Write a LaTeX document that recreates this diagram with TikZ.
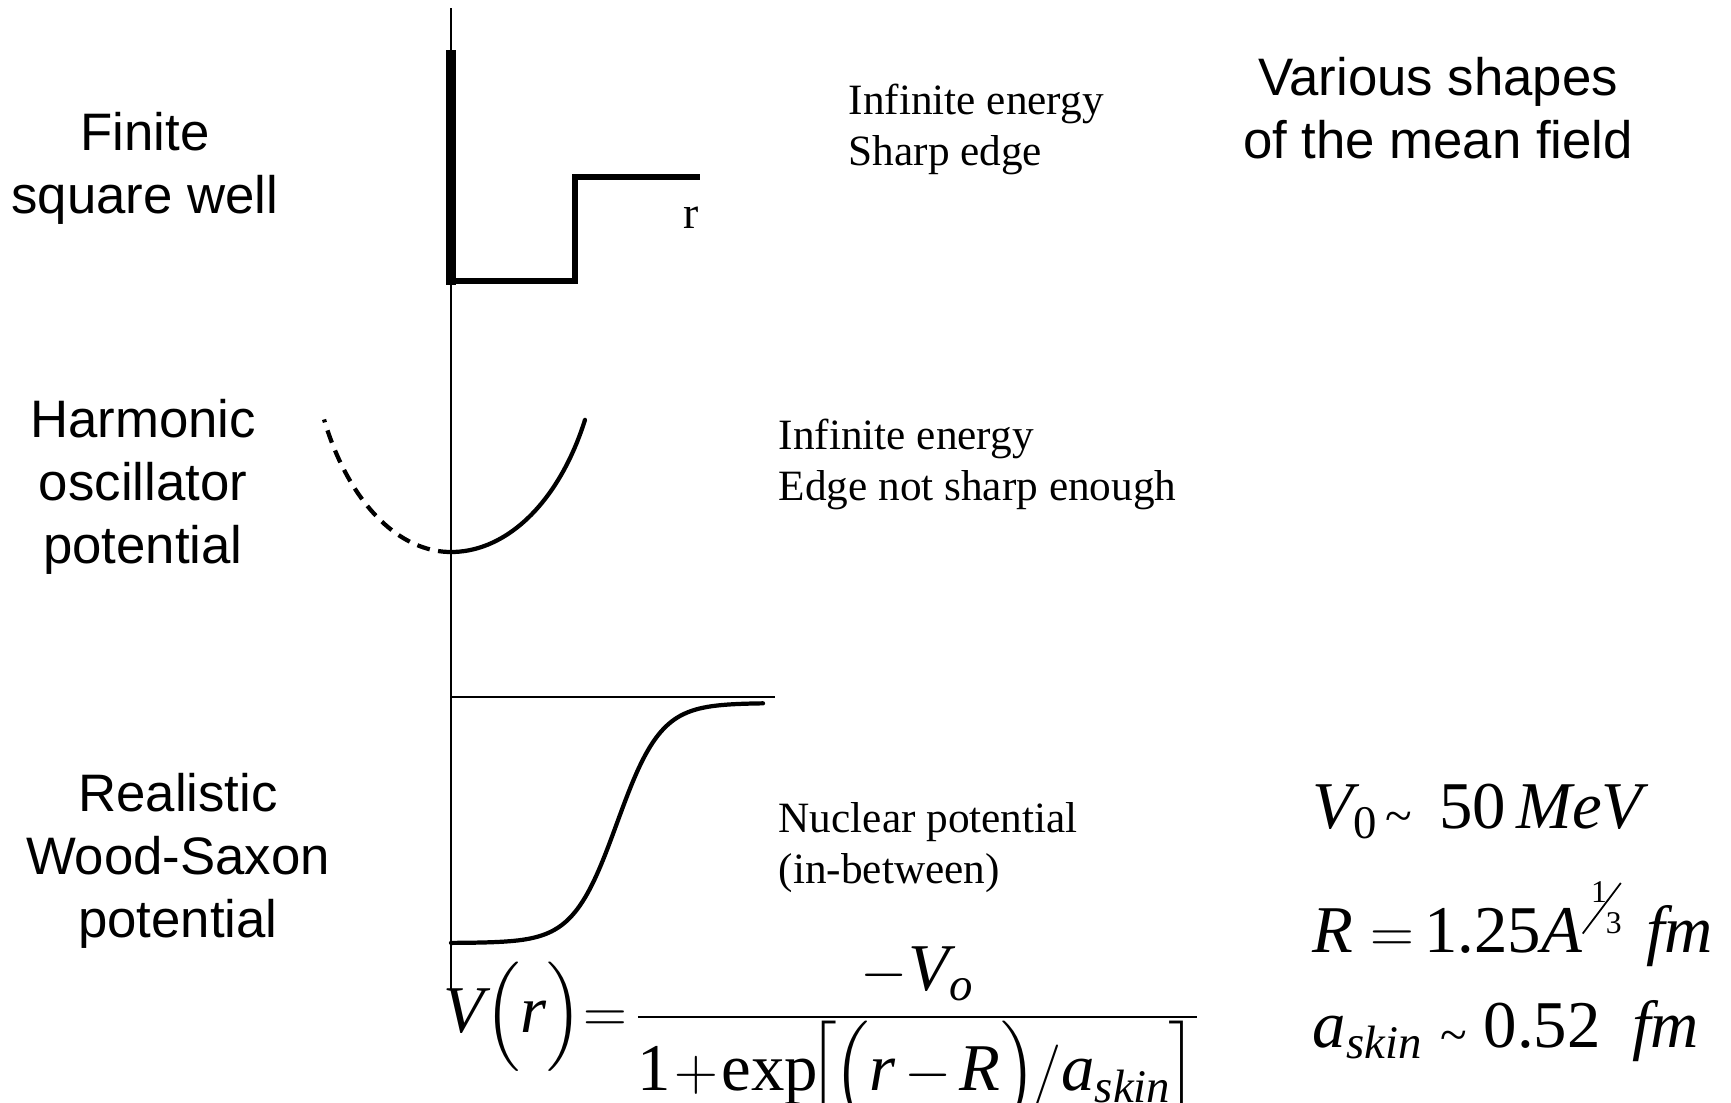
\documentclass[tikz,border=0pt]{standalone}
\usepackage{amsmath}
\usepackage{graphicx}
\usepackage{fontspec}
\setmainfont{Liberation Serif}
\setsansfont{Liberation Sans}
\usepackage{tikz}
\newcommand{\mv}[1]{\textit{#1}}
\newcommand{\nrm}[1]{\textup{#1}}
\newcommand{\tld}{\mathrel{\raisebox{-1.2pt}{\fontsize{14}{14}\selectfont\textasciitilde}}}

\begin{document}
\begin{tikzpicture}[
   x=0.01cm, y=-0.01cm,
   shape label/.style={font=\sffamily\fontsize{15}{17.8}\selectfont,
                       align=center, anchor=base, inner sep=0pt},
   note/.style={font=\fontsize{12.3}{14.3}\selectfont,
                align=left, anchor=base west, inner sep=0pt},
   formula/.style={font=\fontsize{19}{23}\selectfont, anchor=base west, inner sep=0pt},
   axis/.style={line width=0.6pt},
   well/.style={line width=1.7pt, line join=miter},
   curve/.style={line width=1.2pt, line cap=round}
]
\useasboundingbox (0,0) rectangle (1731,1102);

% Axes
\draw[axis] (451,8) -- (451,990);
\draw[axis] (451,697) -- (775,697);

% Finite square well
\draw[well] (451,281) -- (575,281) -- (575,177) -- (700,177);
\draw[line width=2.8pt] (451,50) -- (451,284.5);
\node[font=\fontsize{13}{15}\selectfont, anchor=base, inner sep=0pt] (rlabel) at (691,228) {r};

% Harmonic oscillator
\draw[curve] plot[domain=0:63.3, samples=40] ({451+150*sin(\x)}, {552-240*(1-cos(\x))});
\draw[curve, line cap=butt, dash pattern=on 3.7pt off 2.4pt]
     plot[domain=0:63.4, samples=40] ({451-142*sin(\x)}, {552-240*(1-cos(\x))});

% Wood-Saxon
\draw[curve] plot[domain=451:763, samples=80, smooth] (\x, {703+240/(1+exp((\x-617)/22))});

% Labels (anchored at the last line)
\node[shape label] (square) at (145,213) {Finite\\square well};
\node[shape label] (harmonic) at (143,563) {Harmonic\\oscillator\\potential};
\node[shape label] (woodsaxon) at (178,937) {Realistic\\Wood-Saxon\\potential};
\node[shape label] (title) at (1438,158) {Various shapes\\of the mean field};

\node[note] (sharp) at (848,165) {Infinite energy\\Sharp edge};
\node[note] (soft) at (778,500) {Infinite energy\\Edge not sharp enough};
\node[note] (nuclear) at (778,883) {Nuclear potential\\(in-between)};

% Formulas
\node[formula] (potential) at (443,1032)
     {$\mv{V}\Bigl(\mv{r}\Bigr)\mkern-5mu=\mkern-3mu\dfrac{-\mv{V}_{\mv{o}}}{\rule{0pt}{18.6pt}\smash[t]{\nrm{1}\mkern1mu{+}\mkern1mu\nrm{exp}\mkern-3mu\Bigl[\mkern-1mu\Bigl(\mv{r}\mkern2.5mu{-}\mkern2.5mu\mv{R}\Bigr)\mkern-1mu/\mv{a}_{\mv{skin}}\mkern-1mu\Bigr]}}$};
\node[formula] (depth) at (1312,828) {$\mv{V}_{\nrm{0}}\mkern-3mu\tld\kern3pt\nrm{50}\,\mv{MeV}$};
\node[formula] (radius) at (1312,952)
     {$\mv{R}=\mkern-2mu\nrm{1.25}\mv{A}\rlap{\raisebox{14pt}{\kern2.6pt\fontsize{9}{9}\selectfont 1}}\rlap{\raisebox{5.4pt}{\kern6.8pt\fontsize{9}{9}\selectfont 3}}\raisebox{5.4pt}{\rotatebox{-37}{\rule{0.5pt}{18pt}}}\kern7pt\mv{fm}$};
\node[formula] (skin) at (1312,1047) {$\mv{a}_{\mv{skin}}\tld\nrm{0.52}\kern9pt\mv{fm}$};
\end{tikzpicture}
\end{document}
